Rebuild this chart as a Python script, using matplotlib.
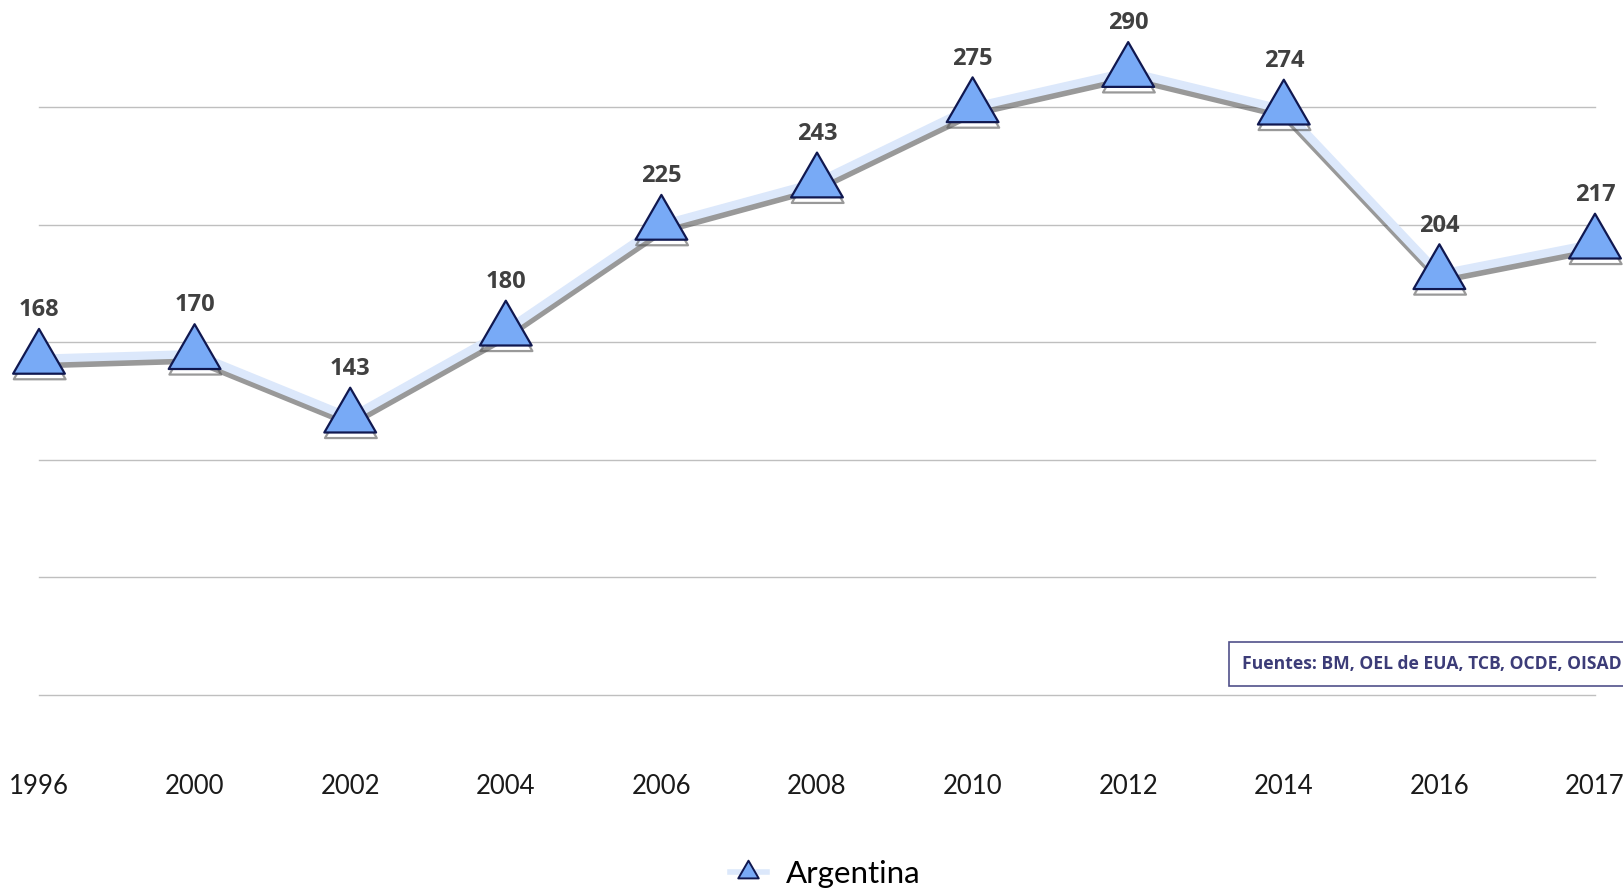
import numpy as np
import matplotlib
matplotlib.use("Agg")
from matplotlib import pyplot as plt
from matplotlib.path import Path
from matplotlib.lines import Line2D
import matplotlib.patheffects as pe

plt.rcParams['font.family'] = ['Lato', 'DejaVu Sans']

years = ["1996", "2000", "2002", "2004", "2006", "2008", "2010", "2012", "2014", "2016", "2017"]
values = [168, 170, 143, 180, 225, 243, 275, 290, 274, 204, 217]
grid_values = [25, 75, 125, 175, 225, 275]
series_name = "Argentina"
source_text = "Fuentes: BM, OEL de EUA, TCB, OCDE, OISAD"

# triangle placed on its centroid, like the spreadsheet marker
tri = Path([(0, 30), (-26, -15), (26, -15), (0, 30)],
           [Path.MOVETO, Path.LINETO, Path.LINETO, Path.CLOSEPOLY])

fig = plt.figure(figsize=(16.24, 8.89), dpi=100)
ax = fig.add_axes([39 / 1624, 1 - 695 / 889, (1595 - 39) / 1624, 695 / 889])

x = np.arange(len(years))
for g in grid_values:
    ax.axhline(g, color="#bfbfbf", lw=1.0, zorder=1, clip_on=False)

ax.plot(x, values, color="#dce8fb", lw=6, zorder=3, clip_on=False,
        marker=tri, markersize=43, markerfacecolor="#78aaf6",
        markeredgecolor="#101850", markeredgewidth=1.6,
        path_effects=[pe.SimpleLineShadow(offset=(0.5, -4), shadow_color="#555555", alpha=0.6),
                      pe.Normal()])

for xi, v in zip(x, values):
    ax.annotate(str(v), (xi, v), xytext=(0, 35), textcoords="offset points",
                ha="center", va="center", fontsize=17, fontweight="bold",
                family="Open Sans", color="#404040", zorder=5, annotation_clip=False)

ax.set_xlim(0, len(years) - 1)
ax.set_ylim(25, 320.6)
ax.set_xticks(x)
ax.set_xticklabels(years, fontsize=18.5, color="#1a1a1a")
ax.tick_params(axis="x", length=0, pad=57)
ax.set_yticks([])
for s in ax.spines.values():
    s.set_visible(False)
ax.patch.set_alpha(0)

handle = Line2D([], [], color="#dce8fb", lw=4, marker=tri, markersize=17,
                markerfacecolor="#78aaf6", markeredgecolor="#101850", markeredgewidth=1.4)
fig.legend([handle], [series_name], loc="center", bbox_to_anchor=(0.508, 0.017),
           frameon=False, fontsize=22.5, handlelength=1.2, handletextpad=0.6)

fig.text(1242 / 1624, 1 - 664 / 889, source_text, ha="left", va="center",
         fontsize=12.6, fontweight="bold", family="Open Sans", color="#3c3c78",
         bbox=dict(boxstyle="square,pad=0.75", facecolor="white", edgecolor="#50508a", lw=1.2))

fig.savefig("out.png", dpi=100)
